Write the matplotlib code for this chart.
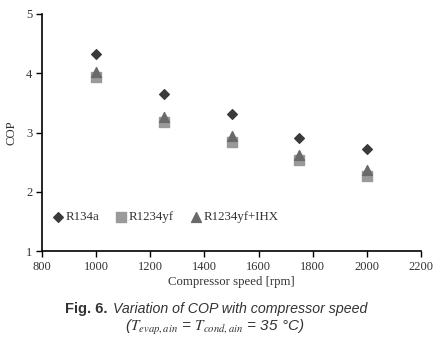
import numpy as np
import matplotlib.pyplot as plt

plt.rcParams['mathtext.fontset'] = 'stix'

speed = [1000, 1250, 1500, 1750, 2000]
cop_r134a = [4.33, 3.65, 3.31, 2.90, 2.72]
cop_r1234yf = [3.94, 3.17, 2.84, 2.53, 2.26]
cop_r1234yf_ihx = [4.02, 3.27, 2.94, 2.62, 2.37]

xticks = [800, 1000, 1200, 1400, 1600, 1800, 2000, 2200]
yticks = [1, 2, 3, 4, 5]

serif = ['Liberation Serif', 'DejaVu Serif']
cap_font = ['Liberation Sans Narrow', 'Liberation Sans', 'DejaVu Sans']

fig = plt.figure(figsize=(4.38, 3.48), dpi=100)
ax = fig.add_axes([42/438, 1 - 251/348, (421-42)/438, (251-14)/348])

ax.scatter(speed, cop_r134a, marker='D', s=24, color='#3a3a3a', label='R134a', zorder=3)
ax.scatter(speed, cop_r1234yf, marker='s', s=42, color='#9a9a9a', label='R1234yf', zorder=3)
ax.scatter(speed, cop_r1234yf_ihx, marker='^', s=50, color='#6a6a6a', label='R1234yf+IHX', zorder=4)

ax.set_xlim(800, 2200)
ax.set_ylim(1, 5)
ax.set_xticks(xticks)
ax.set_yticks(yticks)
for lab in ax.get_xticklabels() + ax.get_yticklabels():
    lab.set_family(serif)
    lab.set_fontsize(9)
    lab.set_color('#333333')
ax.spines['top'].set_visible(False)
ax.spines['right'].set_visible(False)
ax.spines['left'].set_linewidth(1.2)
ax.spines['bottom'].set_linewidth(1.2)
ax.tick_params(direction='out', length=4, width=1.0, pad=3)

ax.set_xlabel('Compressor speed [rpm]', family=serif, fontsize=9.2, color='#333333', labelpad=2)
ax.set_ylabel('COP', family=serif, fontsize=9.2, color='#333333', labelpad=6)

leg = ax.legend(loc='lower left', bbox_to_anchor=(0.0, 0.085), ncol=3, frameon=False,
                prop={'family': serif, 'size': 9.3}, handletextpad=0.0,
                columnspacing=1.1, handlelength=1.2, borderaxespad=0.2)
for t in leg.get_texts():
    t.set_color('#333333')

cap_y = 1 - 309/348
fig.text(65/438, cap_y, 'Fig. 6.', ha='left', va='center', fontsize=10.5,
         family=cap_font, weight='bold', color='#333333')
fig.text(113/438, cap_y, 'Variation of COP with compressor speed', ha='left', va='center',
         fontsize=10.2, family=cap_font, style='italic', color='#333333')
fig.text(215/438, 1 - 327/348, r'($T_{evap,ain}$ = $T_{cond,ain}$ = 35 °C)', ha='center', va='center',
         fontsize=11, family=cap_font, style='italic', color='#333333')

fig.savefig('out.png', dpi=100)
